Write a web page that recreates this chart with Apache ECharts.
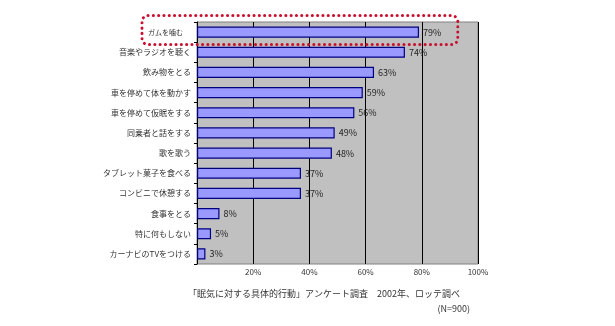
<!DOCTYPE html>
<html><head><meta charset="utf-8">
<script src="https://cdn.jsdelivr.net/npm/echarts@6/dist/echarts.min.js"></script>
<style>html,body{margin:0;padding:0;background:#fff}#c{width:615px;height:326px}</style>
</head><body><div id="c"></div>
<script>
const categories = ['ガムを噛む','音楽やラジオを聴く','飲み物をとる','車を停めて体を動かす','車を停めて仮眠をする','同乗者と話をする','歌を歌う','タブレット菓子を食べる','コンビニで休憩する','食事をとる','特に何もしない','カーナビのTVをつける'];
const values = [79,74,63,59,56,49,48,37,37,8,5,3];
const tickLabels = {20:'20%',40:'40%',60:'60%',80:'80%',100:'100%'};
const footnote = '「眠気に対する具体的行動」アンケート調査　2002年、ロッテ調べ';
const footnote2 = '(N=900)';

const font = '"Noto Sans CJK JP", sans-serif';
const chart = echarts.init(document.getElementById('c'));
const option = {
  backgroundColor: '#fff',
  animation: false,
  grid: {left: 197, top: 22, width: 281, height: 242, show: true, backgroundColor: '#c0c0c0', borderColor: '#808080', borderWidth: 1},
  xAxis: {
    type: 'value', min: 0, max: 100, interval: 20,
    axisLine: {show: false}, axisTick: {show: false},
    splitLine: {show: true, lineStyle: {color: '#000', width: 1}},
    axisLabel: {fontFamily: font, fontSize: 8, color: '#333', margin: 4,
      formatter: v => tickLabels[v] || ''}
  },
  yAxis: {
    type: 'category', data: categories, inverse: true,
    axisLine: {show: true, lineStyle: {color: '#000', width: 1}},
    axisTick: {show: true, length: 3, lineStyle: {color: '#000'}},
    axisLabel: {fontFamily: font, fontSize: 8, color: '#333', margin: 6,
      formatter: (v, i) => i === 0 ? '{first|' + v + '}' : v,
      rich: {first: {fontFamily: font, fontSize: 7, color: '#333', padding: [0, 8, 0, 0]}}}
  },
  series: [{
    type: 'bar', data: values, barWidth: '55%',
    itemStyle: {color: '#9999ff', borderColor: '#000080', borderWidth: 1.2},
    label: {show: true, position: 'right', distance: 4, formatter: '{c}%', fontFamily: font, fontSize: 9, color: '#222'}
  }],
  graphic: [
    {type: 'text', left: 188, top: 289, style: {text: footnote, font: '9px ' + font, fill: '#333'}},
    {type: 'text', right: 145, top: 304, style: {text: footnote2, font: '9px ' + font, fill: '#333'}}
  ]
};
chart.setOption(option);
const yc = chart.convertToPixel({gridIndex: 0}, [0, 0])[1];
const xr = chart.convertToPixel({gridIndex: 0}, [92.8, 0])[0];
const xl = 142;
chart.setOption({graphic: option.graphic.concat([{
  type: 'rect', shape: {x: xl, y: yc - 16.5, width: xr - xl, height: 29, r: 6},
  style: {fill: 'none', stroke: '#c8102e', lineWidth: 3, lineDash: [0.1, 5.2], lineCap: 'round'}, z: 100
}])});
</script></body></html>
